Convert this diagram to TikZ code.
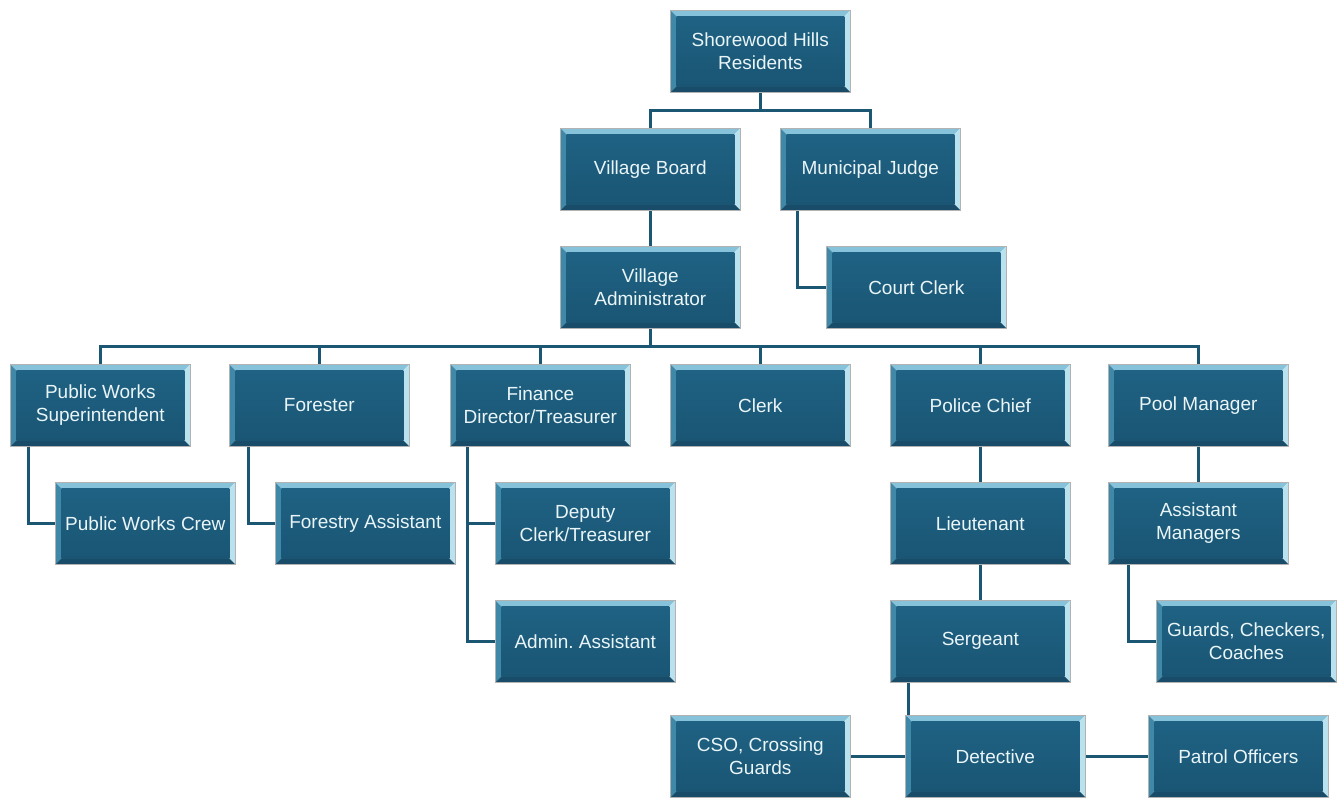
\documentclass[tikz,border=0pt]{standalone}
\usepackage{fontspec}
\setmainfont{Liberation Sans}
\usetikzlibrary{backgrounds}
\definecolor{face}{HTML}{1F6283}
\definecolor{facebot}{HTML}{1A5574}
\definecolor{bevtop}{HTML}{86C3DA}
\definecolor{bevright}{HTML}{B9E2EE}
\definecolor{bevleft}{HTML}{3F88A8}
\definecolor{bevbot}{HTML}{184C68}
\definecolor{linec}{HTML}{1B5673}
\definecolor{txt}{HTML}{EAF5F8}
\tikzset{
  orgbox/.style={rectangle, anchor=north west, minimum width=180pt, minimum height=82pt,
    inner sep=0pt, align=center, text=txt, draw=gray!60, line width=0.6pt,
    font=\fontsize{19}{23.5}\selectfont,
    path picture={
      \fill[bevtop] (path picture bounding box.north west) -- (path picture bounding box.north east)
        -- ([xshift=-6pt,yshift=-6pt]path picture bounding box.north east)
        -- ([xshift=6pt,yshift=-6pt]path picture bounding box.north west) -- cycle;
      \fill[bevright] (path picture bounding box.north east) -- (path picture bounding box.south east)
        -- ([xshift=-6pt,yshift=6pt]path picture bounding box.south east)
        -- ([xshift=-6pt,yshift=-6pt]path picture bounding box.north east) -- cycle;
      \fill[bevbot] (path picture bounding box.south east) -- (path picture bounding box.south west)
        -- ([xshift=6pt,yshift=6pt]path picture bounding box.south west)
        -- ([xshift=-6pt,yshift=6pt]path picture bounding box.south east) -- cycle;
      \fill[bevleft] (path picture bounding box.south west) -- (path picture bounding box.north west)
        -- ([xshift=6pt,yshift=-6pt]path picture bounding box.north west)
        -- ([xshift=6pt,yshift=6pt]path picture bounding box.south west) -- cycle;
      \shade[top color=face, bottom color=facebot]
        ([xshift=6pt,yshift=-6pt]path picture bounding box.north west)
        rectangle ([xshift=-6pt,yshift=6pt]path picture bounding box.south east);
    }},
  conn/.style={draw=linec, line width=3pt}
}
\begin{document}
\begin{tikzpicture}[x=1pt,y=-1pt]
\useasboundingbox (0,0) rectangle (1338,798);
% row 1
\node[orgbox] (res) at (670,10) {Shorewood Hills\\Residents};
% row 2
\node[orgbox] (vb) at (560,128) {Village Board};
\node[orgbox] (mj) at (780,128) {Municipal Judge};
% row 3
\node[orgbox] (va) at (560,246) {Village\\Administrator};
\node[orgbox] (cc) at (826,246) {Court Clerk};
% row 4
\node[orgbox] (pws) at (10,364) {Public Works\\Superintendent};
\node[orgbox] (fo) at (229,364) {Forester};
\node[orgbox] (fin) at (450,364) {Finance\\Director/Treasurer};
\node[orgbox] (clk) at (670,364) {Clerk};
\node[orgbox] (pc) at (890,364) {Police Chief};
\node[orgbox] (pm) at (1108,364) {Pool Manager};
% row 5
\node[orgbox] (pwc) at (55,482) {Public Works Crew};
\node[orgbox] (fa) at (275,482) {Forestry Assistant};
\node[orgbox] (dct) at (495,482) {Deputy\\Clerk/Treasurer};
\node[orgbox] (lt) at (890,482) {Lieutenant};
\node[orgbox] (am) at (1108,482) {Assistant\\Managers};
% row 6
\node[orgbox] (aa) at (495,600) {Admin.\ Assistant};
\node[orgbox] (sg) at (890,600) {Sergeant};
\node[orgbox] (gcc) at (1156,600) {Guards, Checkers,\\Coaches};
% row 7
\node[orgbox] (cso) at (670,715) {CSO, Crossing\\Guards};
\node[orgbox] (det) at (905,715) {Detective};
\node[orgbox] (po) at (1148,715) {Patrol Officers};
\begin{scope}[on background layer]
\fill[white] (0,0) rectangle (1338,798);
\draw[conn] (res.south) -- ++(0,18);
\draw[conn] (vb.north) -- ++(0,-18) -| (mj.north);
\draw[conn] (vb.south) -- (va.north);
\draw[conn] ([xshift=17pt]mj.south west) |- (cc.west);
\draw[conn] (va.south) -- ++(0,18);
\draw[conn] (pws.north) -- ++(0,-18) -| (pm.north);
\draw[conn] (fo.north) -- ++(0,-18);
\draw[conn] (fin.north) -- ++(0,-18);
\draw[conn] (clk.north) -- ++(0,-18);
\draw[conn] (pc.north) -- ++(0,-18);
\draw[conn] ([xshift=18pt]pws.south west) |- (pwc.west);
\draw[conn] ([xshift=19pt]fo.south west) |- (fa.west);
\draw[conn] ([xshift=17pt]fin.south west) |- (dct.west);
\draw[conn] ([xshift=17pt]fin.south west) |- (aa.west);
\draw[conn] (pc.south) -- (lt.north);
\draw[conn] (lt.south) -- (sg.north);
\draw[conn] (pm.south) -- (am.north);
\draw[conn] ([xshift=20pt]am.south west) |- (gcc.west);
\draw[conn] ([xshift=18pt]sg.south west) |- (det.west);
\draw[conn] (cso.east) -- (det.west);
\draw[conn] (det.east) -- (po.west);
\end{scope}
\end{tikzpicture}
\end{document}
